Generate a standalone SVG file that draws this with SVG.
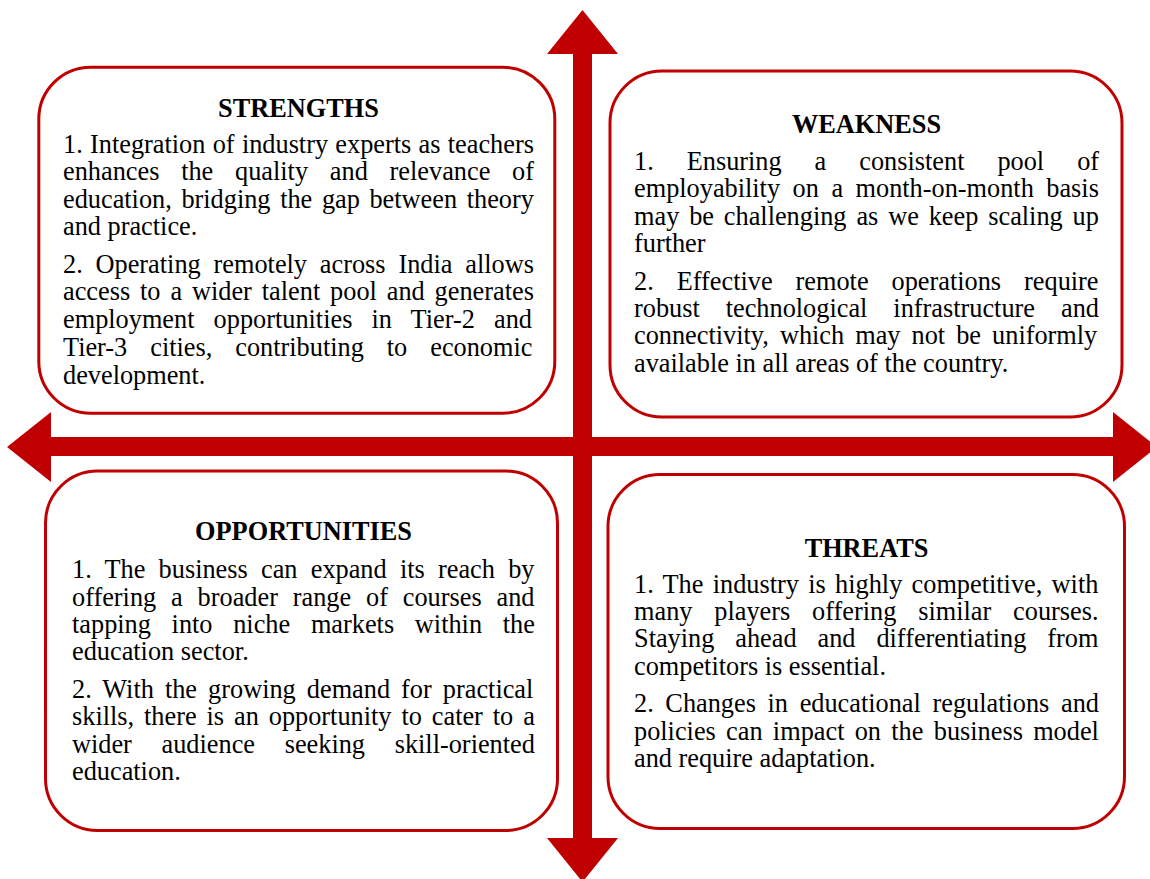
<svg xmlns="http://www.w3.org/2000/svg" width="1150" height="879" viewBox="0 0 1150 879">
<style>
.box{fill:#fff;stroke:#C00000;stroke-width:3}
.arrow{fill:#C00000;stroke:none}
text{font-family:"Liberation Serif","Times New Roman",serif;font-size:26.3px;fill:#000}
.h{font-weight:bold;text-anchor:middle}
</style>
<rect width="1150" height="879" fill="#fff"/>
<g id="connectors">
<polygon class="arrow" points="582.5,10 618,54 592,54 592,838 618,838 582.5,882 547,838 573,838 573,54 547,54"/>
<polygon class="arrow" points="7,447 51,412 51,437 1113,437 1113,412 1157,447 1113,482 1113,456 51,456 51,482"/>
</g>
<g id="strengths">
<rect class="box" x="38.8" y="67.2" width="516" height="346" rx="52" ry="52"/>
<text class="h" x="298.5" y="116.5">STRENGTHS</text>
<text x="63" y="153" style="word-spacing:0.72px">1. Integration of industry experts as teachers</text>
<text x="63" y="180.4" style="word-spacing:15.2px">enhances the quality and relevance of</text>
<text x="63" y="207.8" style="word-spacing:3.04px">education, bridging the gap between theory</text>
<text x="63" y="235.2">and practice.</text>
<text x="63" y="272.7" style="word-spacing:6.26px">2. Operating remotely across India allows</text>
<text x="63" y="300.3" style="word-spacing:3.33px">access to a wider talent pool and generates</text>
<text x="63" y="327.9" style="word-spacing:12.55px">employment opportunities in Tier-2 and</text>
<text x="63" y="355.5" style="word-spacing:16.4px">Tier-3 cities, contributing to economic</text>
<text x="63" y="384">development.</text>
</g>
<g id="weakness">
<rect class="box" x="610" y="71" width="512" height="346" rx="52" ry="52"/>
<text class="h" x="866.5" y="133">WEAKNESS</text>
<text x="634" y="169.5" style="word-spacing:26.4px">1. Ensuring a consistent pool of</text>
<text x="634" y="197.1" style="word-spacing:5.93px">employability on a month-on-month basis</text>
<text x="634" y="224.5" style="word-spacing:3.3px">may be challenging as we keep scaling up</text>
<text x="634" y="251.9">further</text>
<text x="634" y="289.7" style="word-spacing:16.4px">2. Effective remote operations require</text>
<text x="634" y="317.1" style="word-spacing:19.4px">robust technological infrastructure and</text>
<text x="634" y="344.3" style="word-spacing:4.48px">connectivity, which may not be uniformly</text>
<text x="634" y="371.7">available in all areas of the country.</text>
</g>
<g id="opportunities">
<rect class="box" x="45.5" y="471" width="512" height="359.5" rx="52" ry="52"/>
<text class="h" x="303.5" y="539.5">OPPORTUNITIES</text>
<text x="72" y="578.2" style="word-spacing:6.67px">1. The business can expand its reach by</text>
<text x="72" y="605.6" style="word-spacing:8.28px">offering a broader range of courses and</text>
<text x="72" y="633" style="word-spacing:14.14px">tapping into niche markets within the</text>
<text x="72" y="660.4">education sector.</text>
<text x="72" y="697.9" style="word-spacing:4.49px">2. With the growing demand for practical</text>
<text x="72" y="725.3" style="word-spacing:3.36px">skills, there is an opportunity to cater to a</text>
<text x="72" y="752.7" style="word-spacing:23.1px">wider audience seeking skill-oriented</text>
<text x="72" y="780.4">education.</text>
</g>
<g id="threats">
<rect class="box" x="608" y="474.5" width="516.5" height="354" rx="52" ry="52"/>
<text class="h" x="866.5" y="556.5">THREATS</text>
<text x="634" y="592.6" style="word-spacing:2.73px">1. The industry is highly competitive, with</text>
<text x="634" y="620" style="word-spacing:15.3px">many players offering similar courses.</text>
<text x="634" y="647.4" style="word-spacing:14.35px">Staying ahead and differentiating from</text>
<text x="634" y="674.8">competitors is essential.</text>
<text x="634" y="712.2" style="word-spacing:5.06px">2. Changes in educational regulations and</text>
<text x="634" y="739.6" style="word-spacing:3.72px">policies can impact on the business model</text>
<text x="634" y="767">and require adaptation.</text>
</g>
</svg>
